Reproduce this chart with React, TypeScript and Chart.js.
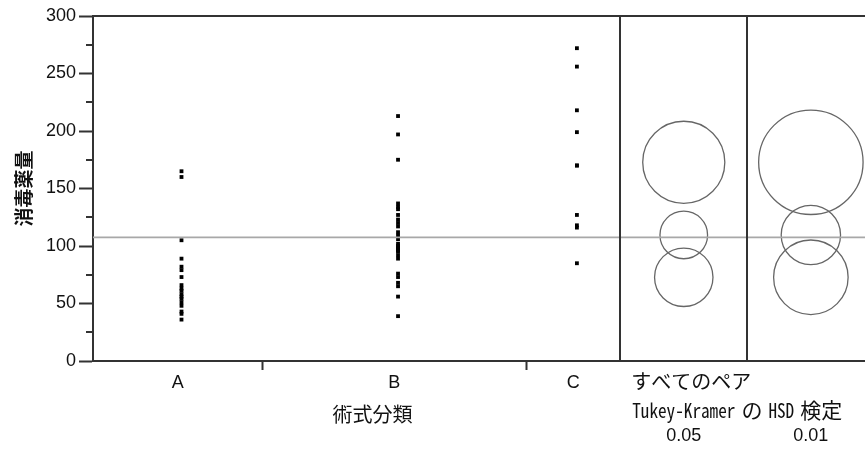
import React, { useEffect, useRef } from 'react';
import { Chart, registerables } from 'chart.js';

Chart.register(...registerables);

// ---- data ----
const categories = ['A', 'B', 'C'];
const valuesA = [165, 160, 105, 89, 82, 79, 73, 66, 63, 61, 58, 56, 54, 51, 48, 43, 41, 36];
const valuesB = [213, 197, 175, 137, 134, 132, 127, 123, 120, 117, 112, 109, 106, 102, 100, 99, 98, 97, 96, 95, 92, 89, 76, 73, 68, 65, 56, 39];
const valuesC = [272, 256, 218, 199, 170, 170, 127, 118, 116, 85];
const grandMean = 107.5;
const circleMeans = [72.8, 109.6, 172.8];
const circleRadii05 = [25.4, 20.7, 35.7];
const circleRadii01 = [32.4, 25.8, 45.4];
const alphaLabels = ['0.05', '0.01'];
const yMajorStep = 50;
const yMinorStep = 25;
const yMax = 300;
const yTitle = '消毒薬量';
const xTitle = '術式分類';
const panelTitle1 = 'すべてのペア';
const panelTitle2 = 'Tukey-Kramer の HSD 検定';

// ---- layout constants ----
const groups = [valuesA, valuesB, valuesC];
const bounds: number[] = [0];
groups.forEach((g) => bounds.push(bounds[bounds.length - 1] + g.length));
const centers = groups.map((_, i) => (bounds[i] + bounds[i + 1]) / 2);
const PANEL_W = 13.5;
const panelStart = bounds[bounds.length - 1];
const panelCenters = [panelStart + PANEL_W / 2, panelStart + PANEL_W * 1.5];
const X_MAX = 82;
const POINT_SHIFT = 0.4;

const JP = '"Noto Sans CJK JP", sans-serif';
const JPMONO = '"Noto Sans Mono CJK JP", "DejaVu Sans Mono", monospace';
const LAT = '"Liberation Sans", Arial, sans-serif';
const AXIS = '#333';

function drawMixed(ctx: CanvasRenderingContext2D, text: string, x0: number, y0: number) {
  const tokens = text.split(' ');
  let xx = x0;
  const SX = 0.86;
  tokens.forEach((tok) => {
    const isLatin = /^[\x00-\x7F]+$/.test(tok);
    if (isLatin) {
      ctx.font = `20px ${JPMONO}`;
      const w = ctx.measureText(tok).width * SX;
      ctx.save();
      ctx.translate(xx, y0);
      ctx.scale(SX, 1);
      ctx.fillText(tok, 0, 0);
      ctx.restore();
      xx += w + 6;
    } else {
      ctx.font = `21px ${JP}`;
      ctx.fillText(tok, xx, y0);
      xx += ctx.measureText(tok).width + 6;
    }
  });
}

const decor = {
  id: 'decor',
  beforeDatasetsDraw(chart: any) {
    const { ctx, scales } = chart;
    const x = scales.x;
    const y = scales.y;
    ctx.save();
    ctx.strokeStyle = '#666';
    ctx.lineWidth = 1.3;
    const radiiSets = [circleRadii05, circleRadii01];
    radiiSets.forEach((radii, p) => {
      const cx = x.getPixelForValue(panelCenters[p]);
      circleMeans.forEach((m, i) => {
        const cy = y.getPixelForValue(m);
        const r = y.getPixelForValue(0) - y.getPixelForValue(radii[i]);
        ctx.beginPath();
        ctx.arc(cx, cy, r, 0, Math.PI * 2);
        ctx.stroke();
      });
    });
    ctx.restore();
  },
  afterDraw(chart: any) {
    const { ctx, chartArea: ca, scales } = chart;
    const x = scales.x;
    const y = scales.y;
    ctx.save();
    ctx.strokeStyle = AXIS;
    ctx.lineWidth = 2;
    // top border
    ctx.beginPath();
    ctx.moveTo(ca.left, ca.top);
    ctx.lineTo(ca.right, ca.top);
    ctx.stroke();
    // panel dividers
    [panelStart, panelStart + PANEL_W].forEach((v) => {
      const px = Math.round(x.getPixelForValue(v));
      ctx.beginPath();
      ctx.moveTo(px, ca.top);
      ctx.lineTo(px, ca.bottom);
      ctx.stroke();
    });
    // minor y ticks
    for (let v = yMinorStep; v < yMax; v += yMajorStep) {
      const py = Math.round(y.getPixelForValue(v));
      ctx.beginPath();
      ctx.moveTo(ca.left - 7, py);
      ctx.lineTo(ca.left, py);
      ctx.stroke();
    }
    // texts
    ctx.fillStyle = '#111';
    ctx.textBaseline = 'middle';
    // y title
    ctx.save();
    ctx.translate(24, (ca.top + ca.bottom) / 2);
    ctx.rotate(-Math.PI / 2);
    ctx.textAlign = 'center';
    ctx.font = `bold 19px ${JP}`;
    ctx.fillText(yTitle, 0, 0);
    ctx.restore();
    // x title
    const divPx = x.getPixelForValue(panelStart);
    ctx.textAlign = 'center';
    ctx.font = `20px ${JP}`;
    ctx.fillText(xTitle, (ca.left + divPx) / 2 + 16, 414);
    // panel titles
    ctx.textAlign = 'left';
    ctx.fillText(panelTitle1, divPx + 11, 381);
    drawMixed(ctx, panelTitle2, divPx + 12, 410);
    ctx.textAlign = 'center';
    ctx.font = `18px ${LAT}`;
    alphaLabels.forEach((l, i) => {
      ctx.fillText(l, x.getPixelForValue(panelCenters[i]), 436);
    });
    ctx.restore();
  },
};

export default function App() {
  const ref = useRef<HTMLCanvasElement>(null);
  useEffect(() => {
    if (!ref.current) return;
    const datasets: any[] = groups.map((g, i) => ({
      type: 'scatter',
      label: categories[i],
      data: g.map((v) => ({ x: centers[i] + POINT_SHIFT, y: v })),
      pointStyle: 'rect',
      pointRadius: 2.7,
      pointBackgroundColor: '#000',
      pointBorderWidth: 0,
      borderWidth: 0,
    }));
    datasets.unshift({
      type: 'line',
      label: 'mean',
      data: [
        { x: 0, y: grandMean },
        { x: X_MAX, y: grandMean },
      ],
      borderColor: '#a8a8a8',
      borderWidth: 1.6,
      pointRadius: 0,
      showLine: true,
    });
    const chart = new Chart(ref.current, {
      type: 'scatter',
      data: { datasets },
      options: {
        animation: false,
        responsive: false,
        events: [],
        layout: { autoPadding: false, padding: { top: 16, left: 0, right: 0, bottom: 0 } },
        plugins: { legend: { display: false }, tooltip: { enabled: false } },
        scales: {
          x: {
            type: 'linear',
            min: 0,
            max: X_MAX,
            afterFit: (s: any) => {
              s.height = 89;
            },
            afterBuildTicks: (s: any) => {
              const t: any[] = [];
              centers.forEach((c, i) => {
                t.push({ value: c });
                if (i < centers.length - 1) t.push({ value: bounds[i + 1] });
              });
              s.ticks = t;
            },
            ticks: {
              autoSkip: false,
              maxRotation: 0,
              padding: 2,
              color: '#111',
              font: { family: LAT, size: 18 },
              callback: (v: any) => {
                const idx = centers.indexOf(Number(v));
                return idx >= 0 ? categories[idx] : '';
              },
            },
            grid: {
              drawOnChartArea: false,
              tickLength: 9,
              tickWidth: 2,
              tickColor: (c: any) => (centers.indexOf(c.tick?.value) >= 0 ? 'transparent' : AXIS),
            },
            border: { display: true, color: AXIS, width: 2 },
          },
          y: {
            type: 'linear',
            min: 0,
            max: yMax,
            afterFit: (s: any) => {
              s.width = 93;
            },
            ticks: {
              stepSize: yMajorStep,
              padding: 3,
              color: '#111',
              font: { family: LAT, size: 18 },
            },
            grid: {
              drawOnChartArea: false,
              tickLength: 14,
              tickWidth: 2,
              tickColor: AXIS,
            },
            border: { display: true, color: AXIS, width: 2 },
          },
        },
      },
      plugins: [decor],
    } as any);
    return () => chart.destroy();
  }, []);
  return (
    <div style={{ position: 'absolute', left: 0, top: 0, width: 865, height: 450, background: '#fff' }}>
      <canvas ref={ref} width={865} height={450} />
    </div>
  );
}
